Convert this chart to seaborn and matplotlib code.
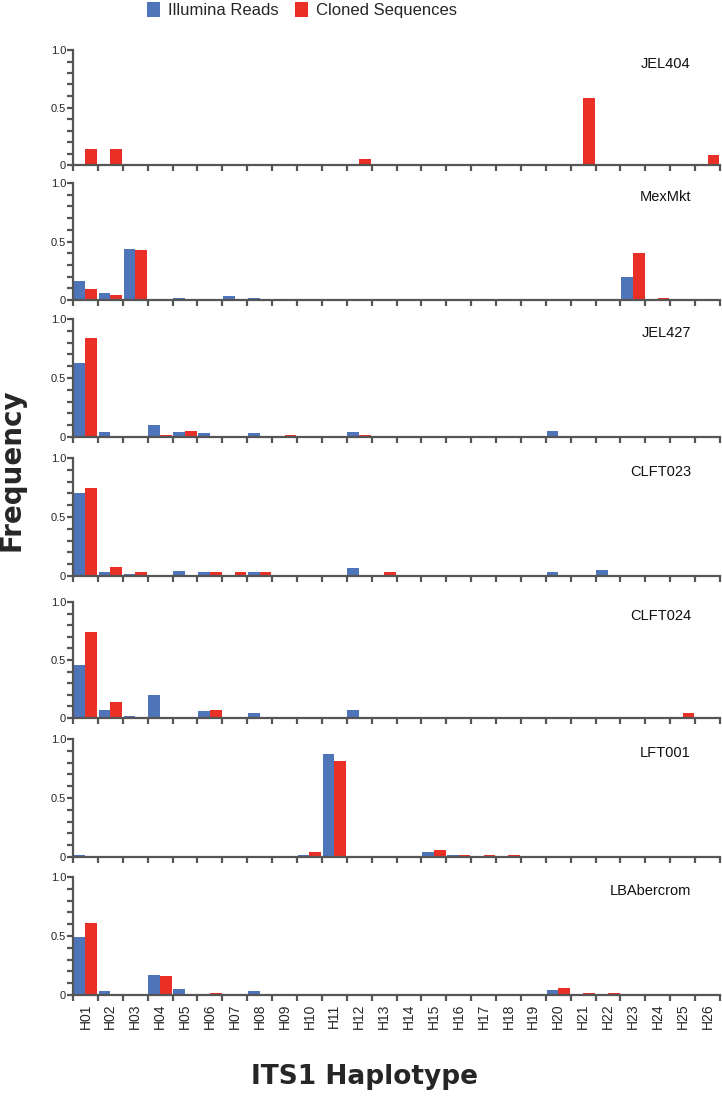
import pandas as pd
import matplotlib.pyplot as plt
import seaborn as sns
from matplotlib.patches import Patch
from matplotlib.ticker import MultipleLocator, FixedLocator, NullFormatter

OUT_PNG = "out.png"

haplotypes = ["H01", "H02", "H03", "H04", "H05", "H06", "H07", "H08", "H09",
              "H10", "H11", "H12", "H13", "H14", "H15", "H16", "H17", "H18",
              "H19", "H20", "H21", "H22", "H23", "H24", "H25", "H26"]
samples = ["JEL404", "MexMkt", "JEL427", "CLFT023", "CLFT024", "LFT001", "LBAbercrom"]
methods = ["Illumina Reads", "Cloned Sequences"]
colors = ["#4e74ba", "#ea2f27"]

#                   H01   H02   H03   H04   H05   H06   H07   H08   H09   H10   H11   H12   H13   H14   H15   H16   H17   H18   H19   H20   H21   H22   H23   H24   H25   H26
jel404_illumina  = [0,    0,    0,    0,    0,    0,    0,    0,    0,    0,    0,    0,    0,    0,    0,    0,    0,    0,    0,    0,    0,    0,    0,    0,    0,    0]
jel404_cloned    = [0.14, 0.14, 0,    0,    0,    0,    0,    0,    0,    0,    0,    0.05, 0,    0,    0,    0,    0,    0,    0,    0,    0.58, 0,    0,    0,    0,    0.09]
mexmkt_illumina  = [0.16, 0.06, 0.44, 0,    0.02, 0,    0.03, 0.02, 0,    0,    0,    0,    0,    0,    0,    0,    0,    0,    0,    0,    0,    0.01, 0.20, 0,    0,    0]
mexmkt_cloned    = [0.09, 0.04, 0.43, 0,    0,    0,    0,    0,    0,    0,    0,    0,    0,    0,    0,    0,    0,    0,    0,    0,    0,    0,    0.40, 0.02, 0,    0]
jel427_illumina  = [0.63, 0.04, 0,    0.10, 0.04, 0.03, 0,    0.03, 0.01, 0,    0,    0.04, 0,    0,    0,    0,    0,    0,    0,    0.05, 0,    0,    0,    0,    0,    0]
jel427_cloned    = [0.84, 0,    0,    0.02, 0.05, 0,    0,    0,    0.02, 0,    0,    0.02, 0,    0,    0,    0,    0,    0,    0,    0,    0,    0,    0,    0,    0,    0]
clft023_illumina = [0.70, 0.03, 0.02, 0,    0.04, 0.03, 0,    0.03, 0,    0,    0,    0.07, 0,    0,    0,    0,    0,    0,    0,    0.03, 0,    0.05, 0,    0,    0,    0]
clft023_cloned   = [0.75, 0.08, 0.03, 0,    0,    0.03, 0.03, 0.03, 0,    0,    0,    0,    0.03, 0,    0,    0,    0,    0,    0,    0,    0,    0,    0,    0,    0,    0]
clft024_illumina = [0.46, 0.07, 0.02, 0.20, 0,    0.06, 0,    0.04, 0.005,0,    0,    0.07, 0,    0,    0,    0,    0,    0,    0,    0.01, 0,    0.01, 0,    0,    0,    0]
clft024_cloned   = [0.74, 0.14, 0,    0,    0,    0.07, 0,    0,    0,    0,    0,    0,    0,    0,    0,    0,    0,    0,    0,    0,    0,    0,    0,    0,    0.04, 0]
lft001_illumina  = [0.015,0,    0,    0,    0,    0,    0,    0.01, 0,    0.02, 0.87, 0,    0,    0,    0.045,0.02, 0,    0,    0,    0,    0,    0,    0,    0,    0,    0]
lft001_cloned    = [0,    0,    0,    0,    0,    0,    0,    0,    0,    0.04, 0.81, 0,    0,    0,    0.06, 0.02, 0.02, 0.02, 0,    0,    0,    0,    0,    0,    0,    0]
lbaber_illumina  = [0.49, 0.03, 0,    0.17, 0.05, 0.01, 0,    0.03, 0,    0,    0,    0.01, 0,    0,    0,    0,    0,    0,    0,    0.04, 0,    0.01, 0,    0,    0,    0]
lbaber_cloned    = [0.61, 0,    0,    0.16, 0,    0.02, 0,    0,    0,    0,    0,    0,    0,    0,    0,    0,    0,    0,    0,    0.06, 0.02, 0.02, 0,    0,    0,    0]

sample_values = {
    "JEL404": (jel404_illumina, jel404_cloned),
    "MexMkt": (mexmkt_illumina, mexmkt_cloned),
    "JEL427": (jel427_illumina, jel427_cloned),
    "CLFT023": (clft023_illumina, clft023_cloned),
    "CLFT024": (clft024_illumina, clft024_cloned),
    "LFT001": (lft001_illumina, lft001_cloned),
    "LBAbercrom": (lbaber_illumina, lbaber_cloned),
}

# panel extents in pixels from the top of the figure
panel_tops = [50, 183, 319, 458, 602, 739, 877]
panel_bottoms = [165, 300, 437, 576, 718, 857, 995]

W, H = 722, 1099
AX_LEFT, AX_RIGHT = 73, 720
SPINE = "#555555"


def long_frame():
    rows = []
    for s in samples:
        for m, vals in zip(methods, sample_values[s]):
            for h, v in zip(haplotypes, vals):
                rows.append({"sample": s, "method": m, "haplotype": h, "freq": v})
    return pd.DataFrame(rows)


def main():
    sns.set_style("white")
    plt.rcParams["font.family"] = ["Liberation Sans", "DejaVu Sans"]

    df = long_frame()
    fig = plt.figure(figsize=(W / 100, H / 100), dpi=100)

    for i, s in enumerate(samples):
        top, bot = panel_tops[i], panel_bottoms[i]
        ax = fig.add_axes([AX_LEFT / W, 1 - bot / H,
                           (AX_RIGHT - AX_LEFT) / W, (bot - top) / H])
        sub = df[df["sample"] == s]
        sns.barplot(data=sub, x="haplotype", y="freq", hue="method",
                    order=haplotypes, hue_order=methods, palette=colors,
                    saturation=1, width=0.94, linewidth=0, ax=ax, legend=False)

        ax.set_xlim(-0.5, len(haplotypes) - 0.5)
        ax.set_ylim(0, 1.0)
        sns.despine(ax=ax)
        for side in ["left", "bottom"]:
            ax.spines[side].set_color(SPINE)
            ax.spines[side].set_linewidth(1.6)

        ax.yaxis.set_major_locator(FixedLocator([0, 0.5, 1.0]))
        ax.set_yticklabels(["0", "0.5", "1.0"])
        ax.yaxis.set_minor_locator(MultipleLocator(0.1))
        ax.tick_params(axis="y", which="both", left=True, direction="out",
                       length=4, width=1.6, color=SPINE, labelsize=8, pad=1)

        bounds = [k - 0.5 for k in range(len(haplotypes) + 1)]
        ax.xaxis.set_major_locator(FixedLocator(bounds))
        ax.xaxis.set_major_formatter(NullFormatter())
        ax.xaxis.set_minor_locator(FixedLocator(list(range(len(haplotypes)))))
        ax.tick_params(axis="x", which="major", bottom=True, direction="out",
                       length=4, width=1.6, color=SPINE)
        if i == len(samples) - 1:
            ax.set_xticks(list(range(len(haplotypes))), minor=True)
            ax.set_xticklabels(haplotypes, minor=True, rotation=90)
            ax.tick_params(axis="x", which="minor", length=0, labelsize=10, pad=6)
        else:
            ax.tick_params(axis="x", which="minor", length=0, labelbottom=False)

        ax.set_xlabel("")
        ax.set_ylabel("")
        ax.text(0.955, 0.88, s, transform=ax.transAxes, ha="right", va="center",
                fontsize=10.5, color="#111111")

    fig.text(12 / W, 1 - 470 / H, "Frequency", rotation=90, ha="center", va="center",
             fontsize=20, fontweight="bold", family="DejaVu Sans")
    fig.text(365 / W, 1 - 1077 / H, "ITS1 Haplotype", ha="center", va="center",
             fontsize=19, fontweight="bold", family="DejaVu Sans")

    handles = [Patch(facecolor=c, edgecolor="none") for c in colors]
    fig.legend(handles, methods, loc="upper center", ncol=2, frameon=False,
               bbox_to_anchor=(302 / W, 1.012), fontsize=12,
               handlelength=0.75, handleheight=1.0, handletextpad=0.5,
               columnspacing=1.0)

    fig.savefig(OUT_PNG, dpi=100)
    plt.close(fig)


if __name__ == "__main__":
    main()
